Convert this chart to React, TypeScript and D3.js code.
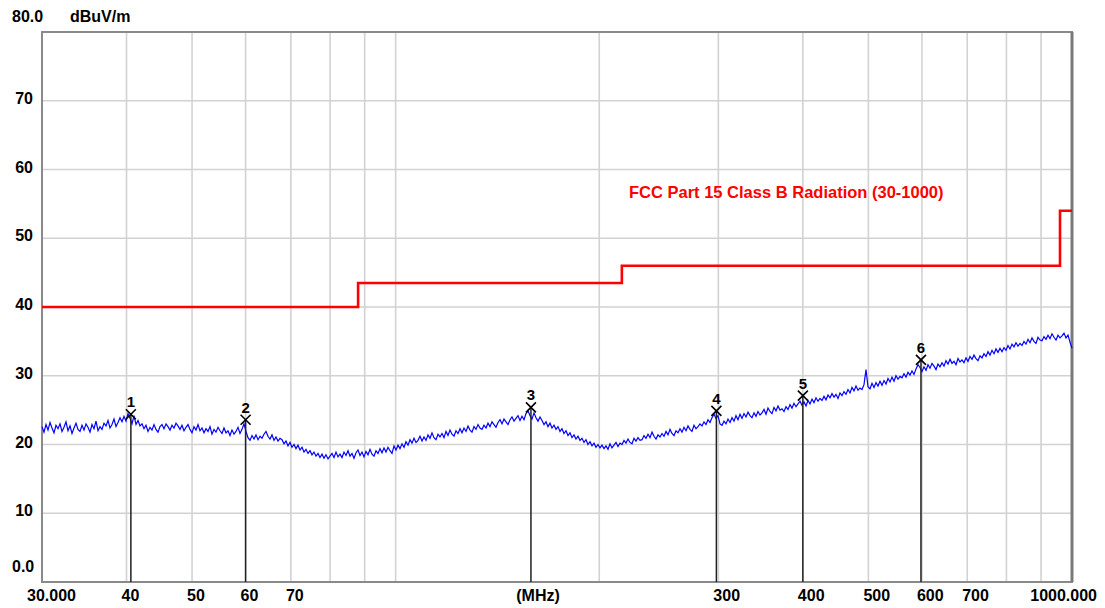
import React from 'react';
import * as d3 from 'd3';

const yTicks = [10, 20, 30, 40, 50, 60, 70];
const yTickLabels = ['10', '20', '30', '40', '50', '60', '70'];
const gridFreqs = [40, 50, 60, 70, 80, 90, 100, 200, 300, 400, 500, 600, 700, 800, 900];
const xTickFreqs = [40, 50, 60, 70, 300, 400, 500, 600, 700];
const xTickLabels = ['40', '50', '60', '70', '300', '400', '500', '600', '700'];
const limitFreqs = [30, 88, 88, 216, 216, 960, 960, 1000];
const limitLevels = [40, 40, 43.5, 43.5, 46, 46, 54, 54];
const limitTitle = 'FCC Part 15 Class B Radiation (30-1000)';
const markerFreqs = [40.6, 60.0, 158.5, 298.0, 400.0, 598.0];
const markerLevels = [24.4, 23.6, 25.4, 24.9, 27.1, 32.3];
const markerLabels = ['1', '2', '3', '4', '5', '6'];
const startFreq = 30;
const stopFreq = 1000;
const traceLevels = [
  22.6, 21.8, 22.9, 22.1, 23.2, 22.4, 21.7, 22.8, 22.3, 23.0,
  21.9, 22.5, 23.3, 22.0, 22.7, 21.6, 22.4, 23.1, 22.2, 21.9,
  22.8, 22.1, 23.0, 22.5, 21.8, 22.9, 22.3, 23.4, 22.0, 22.6,
  22.2, 23.1, 22.7, 23.5, 22.4, 22.9, 23.7, 22.6, 23.2, 23.9,
  23.3, 24.1, 23.4, 24.5, 23.8, 23.0, 24.2, 22.9, 23.5, 22.7,
  23.0, 22.3, 22.8, 21.9, 22.5, 22.1, 22.9, 22.2, 21.8, 22.6,
  22.9, 22.3, 23.0, 22.6, 22.1, 22.8, 22.4, 23.1, 22.7, 22.2,
  22.8, 22.0, 22.5, 22.9, 22.2, 21.7, 22.6, 22.1, 22.9, 22.0,
  22.4, 21.7, 22.3, 21.9, 22.6, 21.5, 22.2, 21.8, 22.5, 22.0,
  21.6, 22.4, 21.7, 22.0, 21.3, 22.1, 21.5, 21.9, 22.5, 21.6,
  22.2, 23.0, 21.9, 21.0, 20.6, 21.3, 20.8, 21.4, 20.7, 21.2,
  20.9, 21.5, 21.9, 21.2, 20.8, 21.4, 20.6, 21.1, 20.5, 20.9,
  20.7, 20.1, 20.5, 19.8, 20.3, 19.6, 20.0, 19.4, 19.9, 19.2,
  19.6, 18.9, 19.3, 18.7, 19.1, 18.5, 18.9, 18.3, 18.7, 18.1,
  18.6, 18.0, 18.5, 17.9, 18.3, 18.7, 18.1, 18.9, 18.2, 18.6,
  18.1, 18.9, 18.4, 19.1, 18.3, 18.7, 18.0, 18.8, 19.2, 18.4,
  18.9, 18.2, 19.0, 18.5, 19.3, 18.6, 18.3, 19.1, 18.7, 19.4,
  18.8, 19.5, 18.9, 19.6, 19.1, 18.7, 19.8, 19.2, 19.9, 19.4,
  20.1, 19.6, 20.4, 19.9, 20.7, 20.2, 20.9, 20.3, 20.6, 21.2,
  20.5, 21.1, 20.6, 21.4, 20.9, 21.7, 21.0, 20.7, 21.5, 21.1,
  21.6, 21.0, 21.9, 21.3, 22.1, 21.5, 21.2, 22.0, 21.6, 22.3,
  21.7, 22.4, 21.9, 22.7, 22.1, 21.8, 22.6, 22.2, 22.9, 22.4,
  22.2, 22.8, 22.4, 23.1, 22.6, 23.3, 22.9, 22.5, 23.2, 23.6,
  23.0, 23.7, 23.3, 22.9, 23.6, 24.0, 23.4, 23.8, 24.2, 23.5,
  24.1, 23.6, 24.5, 24.9, 24.2, 23.7, 24.6, 23.9, 23.4, 24.0,
  23.5, 22.9, 23.3, 22.6, 23.1, 22.4, 22.8, 22.2, 22.6, 21.9,
  22.3, 21.6, 22.0, 21.3, 21.7, 21.0, 21.4, 20.8, 21.2, 20.6,
  20.9, 20.3, 20.7, 20.0, 20.4, 19.8, 20.2, 19.6, 20.0, 19.5,
  19.9, 19.4, 19.8, 19.3, 20.1, 19.5, 19.9, 20.3, 19.7, 20.2,
  20.0, 20.6, 20.2, 20.8, 20.3, 20.1, 20.9, 20.5, 21.0, 20.6,
  20.7, 21.3, 20.9, 21.5, 21.0, 21.8, 21.2, 20.8, 21.4, 21.1,
  21.6, 21.2, 21.9, 21.4, 22.2, 21.6, 21.3, 22.0, 21.7, 22.3,
  21.8, 22.5, 22.0, 22.7, 22.2, 21.9, 22.8, 22.3, 22.6, 23.0,
  22.7, 23.3, 22.9, 23.6, 23.2, 23.9, 24.4, 23.8, 24.2, 23.0,
  22.8, 23.4, 23.0, 23.7, 23.2, 23.9, 23.4, 24.2, 23.6, 24.4,
  23.8, 24.5, 24.0, 24.7, 24.2, 23.9, 24.6, 24.1, 24.8, 24.3,
  24.6, 25.1, 24.4, 25.3, 24.8, 24.5, 25.4, 24.9, 25.6, 25.0,
  25.2, 24.8, 25.5, 25.1, 25.8, 25.3, 26.0, 25.5, 25.9, 26.3,
  25.7, 26.2, 25.6, 26.4, 25.9, 26.6, 26.1, 26.8, 26.3, 26.7,
  26.4, 27.0, 26.5, 27.2, 26.8, 27.4, 26.9, 27.3, 26.7, 27.5,
  27.1, 27.7, 27.3, 28.0, 27.5, 28.3, 27.8, 28.5, 27.9, 28.2,
  28.0, 28.7, 30.9, 28.4, 28.1, 28.9, 28.3, 29.0, 28.5, 29.2,
  28.6, 29.3, 28.8, 29.6, 29.1, 29.8, 29.2, 30.0, 29.5, 29.9,
  29.7, 30.3, 29.8, 30.5, 30.1, 30.7, 30.2, 31.0, 31.6, 31.2,
  30.6, 31.3, 30.8, 31.6, 31.1, 31.8, 31.4, 30.9, 31.7, 31.3,
  31.9, 31.4, 32.2, 31.7, 32.4, 31.8, 32.1, 31.6, 32.5, 32.0,
  32.3, 31.9, 32.6, 32.1, 32.8, 32.4, 33.0, 32.5, 32.2, 32.9,
  32.6, 33.2, 32.8, 33.5, 33.0, 33.7, 33.2, 33.9, 33.4, 34.0,
  33.5, 34.1, 33.7, 34.4, 33.9, 34.6, 34.2, 34.8, 34.3, 34.7,
  34.4, 35.0, 34.6, 35.3, 34.8, 35.5, 35.0, 34.7, 35.6, 35.2,
  35.1, 35.7, 35.3, 35.9, 35.4, 36.1, 35.6, 35.2, 35.9, 35.5,
  35.8, 36.2, 35.5, 35.9, 34.9, 34.0,
];

const W = 1105;
const H = 608;
const FONT = '"Liberation Sans", Arial, sans-serif';

export default function App() {
  const x = d3.scaleLog().domain([startFreq, stopFreq]).range([42, 1072]);
  const y = d3.scaleLinear().domain([0, 80]).range([582, 32]);
  const idx = d3
    .scaleLinear()
    .domain([0, traceLevels.length - 1])
    .range([Math.log10(startFreq), Math.log10(stopFreq)]);

  const traceLine = d3
    .line<number>()
    .x((d, i) => x(Math.pow(10, idx(i))))
    .y((d) => y(d));

  const limitLine = d3
    .line<number>()
    .x((d, i) => x(limitFreqs[i]))
    .y((d) => y(d));

  const [x0, x1] = x.range();
  const [y0, y1] = y.range();

  return (
    <div style={{ position: 'absolute', left: 0, top: 0 }}>
      <svg width={W} height={H} style={{ display: 'block', background: '#ffffff' }}>
        {/* grid */}
        {yTicks.map((t) => (
          <line key={'gy' + t} x1={x0} x2={x1} y1={y(t)} y2={y(t)} stroke="#d2d2d2" strokeWidth={1.6} />
        ))}
        {gridFreqs.map((f) => (
          <line key={'gx' + f} x1={x(f)} x2={x(f)} y1={y1} y2={y0} stroke="#d2d2d2" strokeWidth={1.6} />
        ))}
        {/* frame */}
        <rect x={x0} y={y1} width={x1 - x0} height={y0 - y1} fill="none" stroke="#8a8a8a" strokeWidth={2} />
        <line x1={x1} x2={x1} y1={y1} y2={y0} stroke="#7a7a7a" strokeWidth={3} />

        {/* limit */}
        <path d={limitLine(limitLevels) || ''} fill="none" stroke="#ff0000" strokeWidth={2.6} />
        <text x={629} y={198} fill="#ff0000" fontFamily={FONT} fontWeight="bold" fontSize={16.5}>
          {limitTitle}
        </text>

        {/* trace */}
        <path d={traceLine(traceLevels) || ''} fill="none" stroke="#0000ff" strokeWidth={1.2} />

        {/* markers */}
        {markerFreqs.map((f, i) => {
          const mx = x(f);
          const my = y(markerLevels[i]);
          return (
            <g key={'m' + i}>
              <line x1={mx} x2={mx} y1={my} y2={y0} stroke="#202020" strokeWidth={1.5} />
              <line x1={mx - 5} x2={mx + 5} y1={my - 5} y2={my + 5} stroke="#000" strokeWidth={1.6} />
              <line x1={mx - 5} x2={mx + 5} y1={my + 5} y2={my - 5} stroke="#000" strokeWidth={1.6} />
              <text x={mx} y={my - 7} textAnchor="middle" fontFamily={FONT} fontWeight="bold" fontSize={15} fill="#000">
                {markerLabels[i]}
              </text>
            </g>
          );
        })}

        {/* y labels */}
        {yTicks.map((t, i) => (
          <text key={'yl' + t} x={33} y={y(t) + 3} textAnchor="end" fontFamily={FONT} fontWeight="bold" fontSize={16} fill="#000">
            {yTickLabels[i]}
          </text>
        ))}
        <text x={12} y={y(0) - 10} fontFamily={FONT} fontWeight="bold" fontSize={16} fill="#000">0.0</text>
        <text x={12} y={22} fontFamily={FONT} fontWeight="bold" fontSize={16} fill="#000">80.0</text>
        <text x={70} y={22} fontFamily={FONT} fontWeight="bold" fontSize={16} fill="#000">dBuV/m</text>

        {/* x labels */}
        <text x={27} y={601} fontFamily={FONT} fontWeight="bold" fontSize={16} fill="#000">30.000</text>
        {xTickFreqs.map((f, i) => (
          <text key={'xl' + f} x={x(f) - 5} y={601} fontFamily={FONT} fontWeight="bold" fontSize={16} fill="#000">
            {xTickLabels[i]}
          </text>
        ))}
        <text x={538} y={601} textAnchor="middle" fontFamily={FONT} fontWeight="bold" fontSize={16} fill="#000">(MHz)</text>
        <text x={1097} y={601} textAnchor="end" fontFamily={FONT} fontWeight="bold" fontSize={16} fill="#000">1000.000</text>
      </svg>
    </div>
  );
}
